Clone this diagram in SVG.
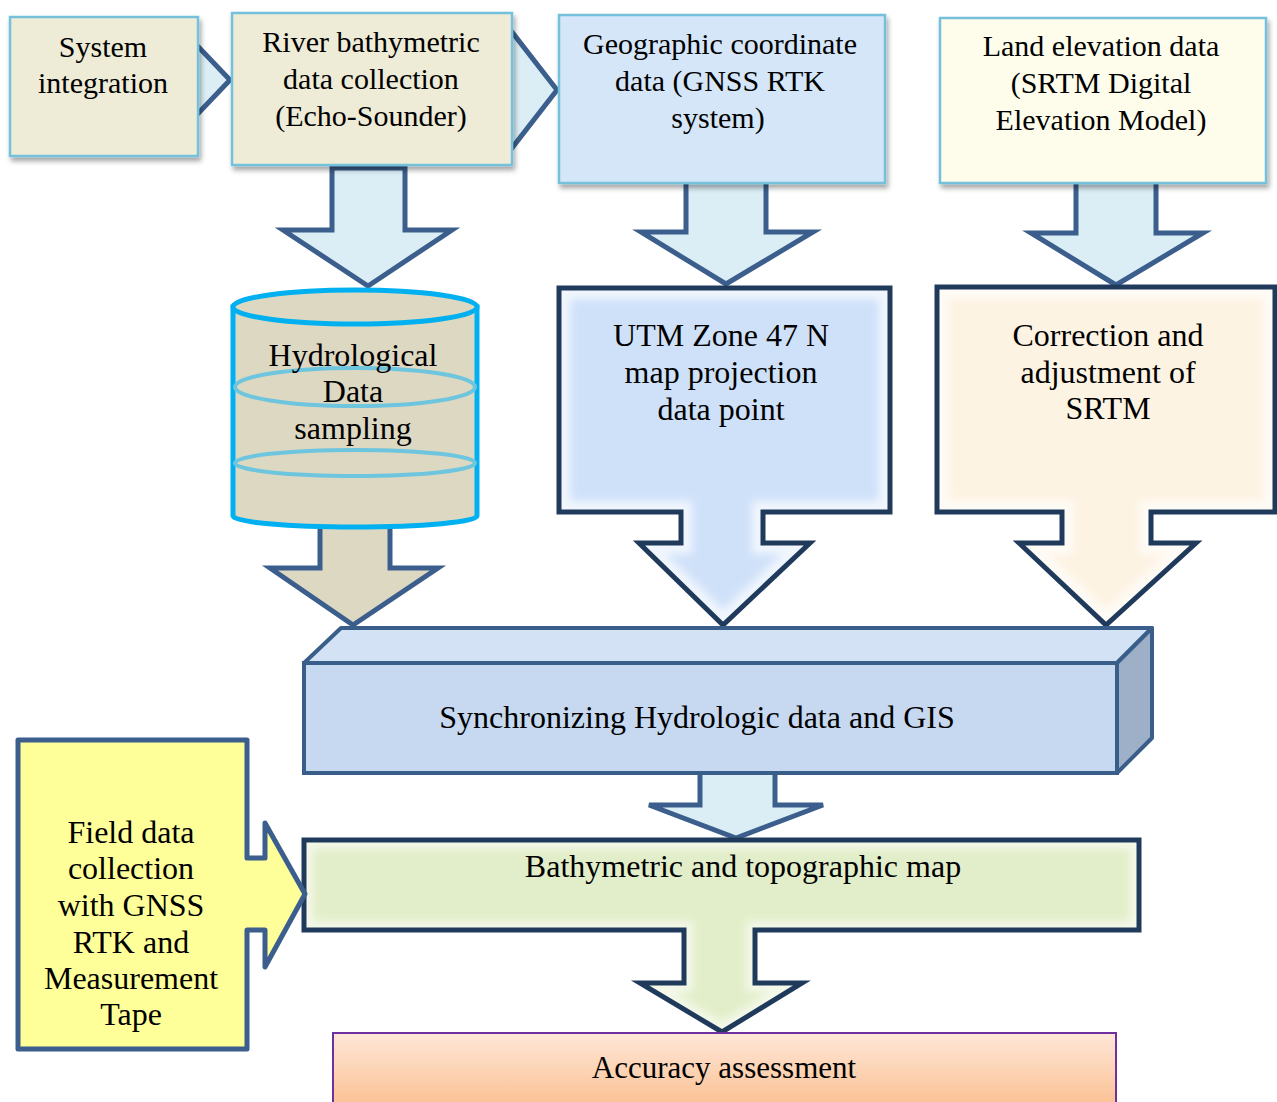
<svg xmlns="http://www.w3.org/2000/svg" width="1277" height="1102" viewBox="0 0 1277 1102">
<style>
text{font-family:"Liberation Serif","Times New Roman",serif;fill:#000;text-anchor:middle}
.t30{font-size:30px}
.t32{font-size:32px}
.arr{stroke:#3b5e8c;stroke-width:5;stroke-linejoin:miter}
.lb{fill:#dbeef5}
.topbox{stroke:#74c1dc;stroke-width:2.5}
.call{stroke:#203a5c;stroke-width:5;stroke-linejoin:miter}
</style>
<defs>
<filter id="sh" x="-10%" y="-10%" width="130%" height="130%">
<feDropShadow dx="2" dy="4" stdDeviation="2.5" flood-color="#000" flood-opacity="0.35"/>
</filter>
<filter id="blur"><feGaussianBlur stdDeviation="4"/></filter>
<linearGradient id="acc" x1="0" y1="0" x2="0" y2="1">
<stop offset="0" stop-color="#fee7d8"/>
<stop offset="1" stop-color="#fbbd8c"/>
</linearGradient>
<clipPath id="cUTM"><path d="M559,288 H890 V512 H763 V543 H810 L723,625 L639,543 H681 V512 H559 Z"/></clipPath>
<clipPath id="cCOR"><path d="M937,287 H1275 V512 H1151 V543 H1196 L1106,625 L1019,543 H1062 V512 H937 Z"/></clipPath>
<clipPath id="cBAT"><path d="M304,840 H1139 V930 H755 V983 H802 L722,1032 L640,983 H684 V930 H304 Z"/></clipPath>
</defs>

<g id="connectors">
<polygon class="arr lb" points="188,36 230,80 188,124"/>
<polygon class="arr lb" points="505,23 557,90 505,157"/>
<path class="arr lb" d="M332,168 H405 V230 H452 L368,286 L283,230 H332 Z"/>
<path class="arr lb" d="M686,180 H766 V232 H813 L726,284 L641,232 H686 Z"/>
<path class="arr lb" d="M1076,180 H1156 V233 H1203 L1116,285 L1031,233 H1076 Z"/>
<path class="arr" fill="#ddd8c2" d="M320,505 H390 V568 H438 L353,625 L270,568 H320 Z"/>
<path class="arr lb" d="M700,770 H775 V805 H823 L736,838 L649,805 H700 Z"/>
</g>

<g id="system-integration">
<rect class="topbox" x="10" y="17" width="188" height="139" fill="#eeebd6" filter="url(#sh)"/>
<text class="t30" x="103" y="57">System</text>
<text class="t30" x="103" y="93">integration</text>
</g>

<g id="river-bathymetric">
<rect class="topbox" x="232" y="13" width="280" height="152" fill="#eeebd6" filter="url(#sh)"/>
<text class="t30" x="371" y="52">River bathymetric</text>
<text class="t30" x="371" y="89">data collection</text>
<text class="t30" x="371" y="126">(Echo-Sounder)</text>
</g>

<g id="geographic-coordinate">
<rect class="topbox" x="559" y="15" width="326" height="168" fill="#d5e6f9" filter="url(#sh)"/>
<text class="t30" x="720" y="54">Geographic coordinate</text>
<text class="t30" x="720" y="91">data (GNSS RTK</text>
<text class="t30" x="718" y="128">system)</text>
</g>

<g id="land-elevation">
<rect class="topbox" x="940" y="18" width="326" height="165" fill="#fefdec" filter="url(#sh)"/>
<text class="t30" x="1101" y="56">Land elevation data</text>
<text class="t30" x="1101" y="93">(SRTM Digital</text>
<text class="t30" x="1101" y="130">Elevation Model)</text>
</g>

<g id="hydrological-data">
<path d="M233,307 V516 A122,11 0 0 0 477,516 V307 Z" fill="#ddd8c2" stroke="#00b0f0" stroke-width="5"/>
<ellipse cx="355" cy="307" rx="122" ry="17" fill="#ddd8c2" stroke="#00b0f0" stroke-width="5"/>
<ellipse cx="355" cy="387" rx="120" ry="19" fill="none" stroke="#6ec5de" stroke-width="4"/>
<ellipse cx="355" cy="463" rx="120" ry="13" fill="none" stroke="#6ec5de" stroke-width="4"/>
<text class="t32" x="353" y="366">Hydrological</text>
<text class="t32" x="353" y="402">Data</text>
<text class="t32" x="353" y="439">sampling</text>
</g>

<g id="utm-zone">
<path d="M559,288 H890 V512 H763 V543 H810 L723,625 L639,543 H681 V512 H559 Z" fill="#cfe1f9"/>
<path clip-path="url(#cUTM)" d="M559,288 H890 V512 H763 V543 H810 L723,625 L639,543 H681 V512 H559 Z" fill="none" stroke="#ffffff" stroke-opacity="0.7" stroke-width="22" filter="url(#blur)"/>
<path class="call" d="M559,288 H890 V512 H763 V543 H810 L723,625 L639,543 H681 V512 H559 Z" fill="none"/>
<text class="t32" x="721" y="346">UTM Zone 47 N</text>
<text class="t32" x="721" y="383">map projection</text>
<text class="t32" x="721" y="420">data point</text>
</g>

<g id="correction-srtm">
<path d="M937,287 H1275 V512 H1151 V543 H1196 L1106,625 L1019,543 H1062 V512 H937 Z" fill="#fdf3e3"/>
<path clip-path="url(#cCOR)" d="M937,287 H1275 V512 H1151 V543 H1196 L1106,625 L1019,543 H1062 V512 H937 Z" fill="none" stroke="#ffffff" stroke-opacity="0.7" stroke-width="22" filter="url(#blur)"/>
<path class="call" d="M937,287 H1275 V512 H1151 V543 H1196 L1106,625 L1019,543 H1062 V512 H937 Z" fill="none"/>
<text class="t32" x="1108" y="346">Correction and</text>
<text class="t32" x="1108" y="383">adjustment of</text>
<text class="t32" x="1108" y="419">SRTM</text>
</g>

<g id="synchronizing">
<polygon points="304,663 341,628 1152,628 1117,663" fill="#d3e2f5" stroke="#3a5e8a" stroke-width="4" stroke-linejoin="round"/>
<polygon points="1117,663 1152,628 1152,738 1117,773" fill="#9eb0c8" stroke="#3a5e8a" stroke-width="4" stroke-linejoin="round"/>
<rect x="304" y="663" width="813" height="110" fill="#c6d9f0" stroke="#3a5e8a" stroke-width="4"/>
<text class="t30" x="697" y="728" style="font-size:32px">Synchronizing Hydrologic data and GIS</text>
</g>

<g id="bathymetric-map">
<path d="M304,840 H1139 V930 H755 V983 H802 L722,1032 L640,983 H684 V930 H304 Z" fill="#e2eec9"/>
<path clip-path="url(#cBAT)" d="M304,840 H1139 V930 H755 V983 H802 L722,1032 L640,983 H684 V930 H304 Z" fill="none" stroke="#ffffff" stroke-opacity="0.6" stroke-width="18" filter="url(#blur)"/>
<path class="call" d="M304,840 H1139 V930 H755 V983 H802 L722,1032 L640,983 H684 V930 H304 Z" fill="none"/>
<text class="t32" x="743" y="877">Bathymetric and topographic map</text>
</g>

<g id="field-data">
<path d="M18,740 H247 V858 H265 V823 L305,894 L265,967 V930 H247 V1049 H18 Z" fill="#ffff99" stroke="#3b5e8c" stroke-width="5" stroke-linejoin="round"/>
<text class="t32" x="131" y="843">Field data</text>
<text class="t32" x="131" y="879">collection</text>
<text class="t32" x="131" y="916">with GNSS</text>
<text class="t32" x="131" y="953">RTK and</text>
<text class="t32" x="131" y="989">Measurement</text>
<text class="t32" x="131" y="1025">Tape</text>
</g>

<g id="accuracy-assessment">
<rect x="333" y="1033" width="783" height="80" fill="url(#acc)" stroke="#7030a0" stroke-width="2"/>
<text class="t30" x="724" y="1078" style="font-size:31px">Accuracy assessment</text>
</g>
</svg>
